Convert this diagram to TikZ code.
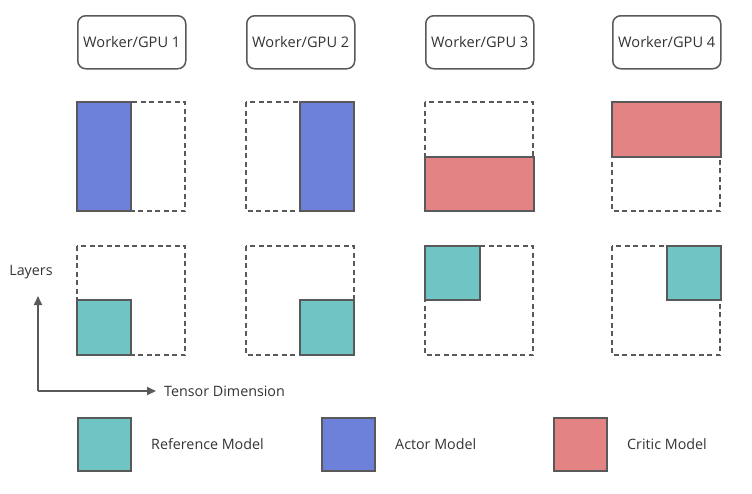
\documentclass[tikz,border=0pt]{standalone}
\usepackage{fontspec}
\setmainfont{Open Sans}
\usetikzlibrary{positioning}
\usetikzlibrary{arrows.meta}

\definecolor{refcol}{HTML}{6EC5C4}
\definecolor{actorcol}{HTML}{6D80DA}
\definecolor{criticcol}{HTML}{E38383}
\definecolor{edgecol}{HTML}{595959}

\tikzset{
	worker/.style={draw=edgecol, line width=1.5pt, rounded corners=8pt, minimum width=108pt, minimum height=53pt, font=\fontsize{14.6}{17}\selectfont, text=black!80},
	slot/.style={draw=edgecol, line width=1.7pt, dash pattern=on 5pt off 3.5pt},
	block/.style={draw=edgecol, line width=2pt},
	legendbox/.style={block, minimum width=53pt, minimum height=53pt, inner sep=0pt},
	caption/.style={font=\fontsize{14.3}{17}\selectfont, text=black!80, inner sep=0pt},
}

\begin{document}
\begin{tikzpicture}[x=1pt, y=-1pt]
	% Fix the canvas
	\useasboundingbox (0,0) rectangle (752,493);

	% Worker headers and their empty slots (upper row: actor/critic, lower row: reference)
	\foreach \i/\x in {1/77, 2/246, 3/425, 4/612} {
		\node[worker, anchor=north west] (w\i) at (\x,15) {Worker/GPU \i};
		\draw[slot] (\x,102) rectangle +(108,109);
		\draw[slot] (\x,246) rectangle +(108,109);
	}

	% Actor model split along the tensor dimension
	\draw[block, fill=actorcol] (77,102) rectangle (131,211);
	\draw[block, fill=actorcol] (300,102) rectangle (354,211);

	% Critic model split along the layers
	\draw[block, fill=criticcol] (425,157) rectangle (534,211);
	\draw[block, fill=criticcol] (612,102) rectangle (721,157);

	% Reference model split along both
	\draw[block, fill=refcol] (77,300) rectangle (131,355);
	\draw[block, fill=refcol] (300,300) rectangle (354,355);
	\draw[block, fill=refcol] (425,246) rectangle (480,300);
	\draw[block, fill=refcol] (667,246) rectangle (721,300);

	% Axes
	\coordinate (o) at (38,391);
	\coordinate (up) at (38,296);
	\coordinate (right) at (156,391);
	\draw[edgecol, line width=2pt, -{Triangle[length=9pt, width=8pt]}] (o) -- (up);
	\draw[edgecol, line width=2pt, -{Triangle[length=9pt, width=8pt]}] (o) -- (right);
	\node[caption] (layers) at (31,272) {Layers};
	\node[caption, anchor=west] (tensor) at (164,391) {Tensor Dimension};

	% Legend
	\node[legendbox, fill=refcol, anchor=north west] (lref) at (77,417) {};
	\node[caption, right=19pt of lref] (tref) {Reference Model};
	\node[legendbox, fill=actorcol, anchor=north west] (lactor) at (321,417) {};
	\node[caption, right=19pt of lactor] (tactor) {Actor Model};
	\node[legendbox, fill=criticcol, anchor=north west] (lcritic) at (553,417) {};
	\node[caption, right=19pt of lcritic] (tcritic) {Critic Model};
\end{tikzpicture}
\end{document}
